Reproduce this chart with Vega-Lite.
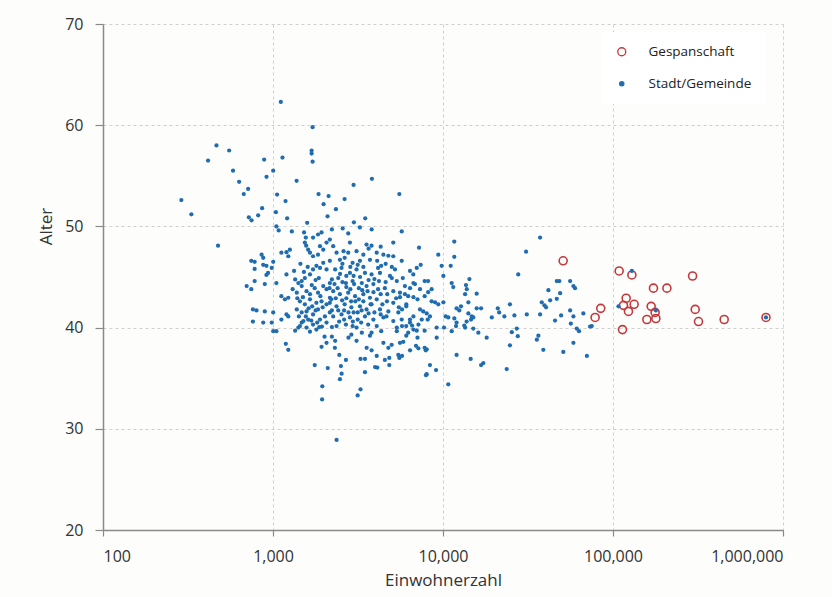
{
  "$schema": "https://vega.github.io/schema/vega-lite/v6.json",
  "width": 680,
  "height": 506,
  "autosize": {"type": "none"},
  "padding": {"left": 103, "top": 24, "right": 49, "bottom": 67},
  "background": "#fdfdfb",
  "config": {
    "view": {"stroke": null},
    "font": "Open Sans",
    "axis": {
      "labelFont": "Open Sans", "titleFont": "Open Sans",
      "labelColor": "#333333", "titleColor": "#333333",
      "labelFontSize": 16, "titleFontSize": 17, "titleFontWeight": "normal",
      "domainColor": "#8a8a8a", "domainWidth": 1.5,
      "tickColor": "#8a8a8a", "tickWidth": 1.2,
      "gridColor": "#cfcfcf", "gridDash": [3, 3], "gridWidth": 1
    }
  },
  "datasets": {
    "zup": [
      {"einw": 50900, "alter": 46.6}, {"einw": 78500, "alter": 41.0}, {"einw": 84700, "alter": 41.9},
      {"einw": 108700, "alter": 45.6}, {"einw": 129100, "alter": 45.2}, {"einw": 119500, "alter": 42.9},
      {"einw": 115200, "alter": 42.2}, {"einw": 133200, "alter": 42.3}, {"einw": 123300, "alter": 41.6},
      {"einw": 113700, "alter": 39.8}, {"einw": 173000, "alter": 43.9}, {"einw": 207500, "alter": 43.9},
      {"einw": 167700, "alter": 42.1}, {"einw": 178700, "alter": 40.9}, {"einw": 158200, "alter": 40.8},
      {"einw": 177000, "alter": 41.5}, {"einw": 293800, "alter": 45.1}, {"einw": 304500, "alter": 41.8},
      {"einw": 318400, "alter": 40.6}, {"einw": 450800, "alter": 40.8}, {"einw": 794000, "alter": 41.0}
    ],
    "stadt": [
      {"einw": 1112, "alter": 62.3}, {"einw": 1710, "alter": 59.8}, {"einw": 465, "alter": 58.0}, {"einw": 552, "alter": 57.5},
      {"einw": 415, "alter": 56.5}, {"einw": 887, "alter": 56.6}, {"einw": 1137, "alter": 56.8}, {"einw": 1687, "alter": 57.5},
      {"einw": 1687, "alter": 57.2}, {"einw": 1710, "alter": 56.4}, {"einw": 582, "alter": 55.5}, {"einw": 1003, "alter": 55.5},
      {"einw": 916, "alter": 54.9}, {"einw": 632, "alter": 54.4}, {"einw": 1377, "alter": 54.5}, {"einw": 714, "alter": 53.7},
      {"einw": 673, "alter": 53.2}, {"einw": 289, "alter": 52.6}, {"einw": 1057, "alter": 53.15}, {"einw": 1185, "alter": 52.5},
      {"einw": 1853, "alter": 53.2}, {"einw": 331, "alter": 51.2}, {"einw": 863, "alter": 51.8}, {"einw": 1040, "alter": 51.4},
      {"einw": 818, "alter": 51.1}, {"einw": 721, "alter": 50.9}, {"einw": 748, "alter": 50.6}, {"einw": 1211, "alter": 50.8},
      {"einw": 1589, "alter": 50.35}, {"einw": 475, "alter": 48.1}, {"einw": 1047, "alter": 50.0}, {"einw": 1080, "alter": 49.6},
      {"einw": 1291, "alter": 49.5}, {"einw": 1523, "alter": 49.4}, {"einw": 1560, "alter": 48.9}, {"einw": 1567, "alter": 48.1},
      {"einw": 1984, "alter": 52.2}, {"einw": 2123, "alter": 53.0}, {"einw": 2094, "alter": 51.0}, {"einw": 2345, "alter": 51.7},
      {"einw": 2637, "alter": 52.7}, {"einw": 2978, "alter": 54.1}, {"einw": 3487, "alter": 50.8}, {"einw": 3818, "alter": 54.7},
      {"einw": 3804, "alter": 49.7}, {"einw": 2992, "alter": 50.4}, {"einw": 3243, "alter": 49.9}, {"einw": 5534, "alter": 53.2},
      {"einw": 5717, "alter": 49.5}, {"einw": 2570, "alter": 49.8}, {"einw": 915, "alter": 45.2},
      {"einw": 1540, "alter": 48.4}, {"einw": 1610, "alter": 47.7}, {"einw": 1120, "alter": 47.4}, {"einw": 1200, "alter": 47.45},
      {"einw": 1257, "alter": 47.7}, {"einw": 1230, "alter": 47.05}, {"einw": 857, "alter": 47.2}, {"einw": 876, "alter": 46.9},
      {"einw": 745, "alter": 46.6}, {"einw": 780, "alter": 46.5}, {"einw": 876, "alter": 46.2}, {"einw": 915, "alter": 46.1},
      {"einw": 1003, "alter": 46.5}, {"einw": 780, "alter": 45.8}, {"einw": 935, "alter": 45.4}, {"einw": 983, "alter": 45.9},
      {"einw": 1200, "alter": 45.25}, {"einw": 780, "alter": 44.6}, {"einw": 700, "alter": 44.1}, {"einw": 745, "alter": 43.8},
      {"einw": 895, "alter": 44.3}, {"einw": 1047, "alter": 44.4}, {"einw": 1120, "alter": 43.1}, {"einw": 1175, "alter": 42.8},
      {"einw": 1230, "alter": 42.95}, {"einw": 762, "alter": 41.8}, {"einw": 800, "alter": 41.7}, {"einw": 895, "alter": 41.6},
      {"einw": 1003, "alter": 41.5}, {"einw": 762, "alter": 40.6}, {"einw": 876, "alter": 40.5}, {"einw": 983, "alter": 40.5},
      {"einw": 1003, "alter": 39.65}, {"einw": 1047, "alter": 39.65}, {"einw": 1190, "alter": 38.4}, {"einw": 1230, "alter": 37.8},
      {"einw": 1410, "alter": 40.0}, {"einw": 1475, "alter": 40.5}, {"einw": 1760, "alter": 36.3}, {"einw": 2100, "alter": 36.0},
      {"einw": 1950, "alter": 34.2}, {"einw": 1945, "alter": 32.9}, {"einw": 2366, "alter": 28.9}, {"einw": 1930, "alter": 38.1},
      {"einw": 2010, "alter": 39.1}, {"einw": 2065, "alter": 38.5}, {"einw": 1650, "alter": 39.6}, {"einw": 1800, "alter": 39.8},
      {"einw": 1575, "alter": 40.0}, {"einw": 1870, "alter": 40.05},
      {"einw": 1350, "alter": 44.76}, {"einw": 1410, "alter": 44.4}, {"einw": 1475, "alter": 44.6}, {"einw": 1540, "alter": 44.9},
      {"einw": 1650, "alter": 45.25}, {"einw": 1720, "alter": 45.75}, {"einw": 1800, "alter": 46.1}, {"einw": 1890, "alter": 45.9},
      {"einw": 1975, "alter": 46.4}, {"einw": 2065, "alter": 45.75}, {"einw": 1650, "alter": 47.4}, {"einw": 1720, "alter": 47.05},
      {"einw": 1840, "alter": 47.2}, {"einw": 1890, "alter": 48.05}, {"einw": 1975, "alter": 47.7}, {"einw": 2065, "alter": 48.4},
      {"einw": 1720, "alter": 48.9}, {"einw": 1840, "alter": 49.2}, {"einw": 1930, "alter": 49.4}, {"einw": 2160, "alter": 48.7},
      {"einw": 1305, "alter": 43.8}, {"einw": 1380, "alter": 43.45}, {"einw": 1475, "alter": 44.1}, {"einw": 1575, "alter": 43.6},
      {"einw": 1650, "alter": 43.3}, {"einw": 1760, "alter": 43.9}, {"einw": 1840, "alter": 43.45}, {"einw": 1975, "alter": 44.1},
      {"einw": 2065, "alter": 43.8}, {"einw": 2160, "alter": 44.4}, {"einw": 1440, "alter": 42.6}, {"einw": 1540, "alter": 42.3},
      {"einw": 1650, "alter": 42.8}, {"einw": 1800, "alter": 42.45}, {"einw": 1930, "alter": 42.6}, {"einw": 2065, "alter": 42.3},
      {"einw": 2160, "alter": 42.95}, {"einw": 1380, "alter": 41.8}, {"einw": 1475, "alter": 41.5}, {"einw": 1575, "alter": 41.6},
      {"einw": 1720, "alter": 41.3}, {"einw": 1840, "alter": 41.8}, {"einw": 2020, "alter": 41.1}, {"einw": 2160, "alter": 41.5},
      {"einw": 1510, "alter": 40.65}, {"einw": 1610, "alter": 40.8}, {"einw": 1720, "alter": 40.3}, {"einw": 1890, "alter": 40.8},
      {"einw": 2065, "alter": 40.5}, {"einw": 1440, "alter": 40.15}, {"einw": 1230, "alter": 41.1}, {"einw": 1120, "alter": 40.8},
      {"einw": 1200, "alter": 41.3},
      {"einw": 2220, "alter": 49.7}, {"einw": 2770, "alter": 49.3}, {"einw": 2260, "alter": 48.05}, {"einw": 2835, "alter": 48.4},
      {"einw": 3550, "alter": 48.2}, {"einw": 3800, "alter": 48.1}, {"einw": 5100, "alter": 48.4}, {"einw": 2365, "alter": 47.4},
      {"einw": 2600, "alter": 47.55}, {"einw": 2770, "alter": 47.4}, {"einw": 3100, "alter": 47.55}, {"einw": 3400, "alter": 47.2},
      {"einw": 4075, "alter": 47.4}, {"einw": 4460, "alter": 47.2}, {"einw": 4770, "alter": 47.1}, {"einw": 5100, "alter": 47.05},
      {"einw": 5717, "alter": 46.6}, {"einw": 2160, "alter": 46.6}, {"einw": 2475, "alter": 46.7}, {"einw": 2640, "alter": 46.9},
      {"einw": 2940, "alter": 46.4}, {"einw": 3247, "alter": 46.6}, {"einw": 3719, "alter": 46.7}, {"einw": 4150, "alter": 45.9},
      {"einw": 4330, "alter": 46.1}, {"einw": 5220, "alter": 45.75}, {"einw": 6394, "alter": 45.6}, {"einw": 7010, "alter": 45.9},
      {"einw": 7800, "alter": 44.6}, {"einw": 2320, "alter": 45.75}, {"einw": 2530, "alter": 45.9}, {"einw": 2835, "alter": 45.4},
      {"einw": 3100, "alter": 45.75}, {"einw": 3475, "alter": 45.4}, {"einw": 3800, "alter": 45.25}, {"einw": 4258, "alter": 45.4},
      {"einw": 4875, "alter": 45.1}, {"einw": 5350, "alter": 44.6}, {"einw": 6700, "alter": 44.4}, {"einw": 7322, "alter": 43.8},
      {"einw": 2220, "alter": 44.76}, {"einw": 2420, "alter": 44.9}, {"einw": 2685, "alter": 44.4}, {"einw": 2940, "alter": 44.6},
      {"einw": 3330, "alter": 44.4}, {"einw": 3550, "alter": 44.1}, {"einw": 3895, "alter": 44.3}, {"einw": 4150, "alter": 43.8},
      {"einw": 4550, "alter": 43.9}, {"einw": 5100, "alter": 43.6}, {"einw": 5583, "alter": 43.45}, {"einw": 6240, "alter": 43.1},
      {"einw": 7080, "alter": 42.8}, {"einw": 7800, "alter": 43.1}, {"einw": 2260, "alter": 43.6}, {"einw": 2475, "alter": 43.3},
      {"einw": 2770, "alter": 43.45}, {"einw": 3040, "alter": 43.1}, {"einw": 3400, "alter": 43.3}, {"einw": 3719, "alter": 42.95},
      {"einw": 4075, "alter": 42.8}, {"einw": 4680, "alter": 42.6}, {"einw": 5100, "alter": 42.45}, {"einw": 6080, "alter": 42.3},
      {"einw": 7650, "alter": 41.6}, {"einw": 2160, "alter": 42.45}, {"einw": 2365, "alter": 42.1}, {"einw": 2640, "alter": 42.3},
      {"einw": 2890, "alter": 42.0}, {"einw": 3247, "alter": 42.1}, {"einw": 3550, "alter": 41.8}, {"einw": 3800, "alter": 42.3},
      {"einw": 4258, "alter": 41.8}, {"einw": 4770, "alter": 41.6}, {"einw": 5460, "alter": 41.5}, {"einw": 5740, "alter": 41.8},
      {"einw": 6700, "alter": 41.1}, {"einw": 7500, "alter": 40.8}, {"einw": 2260, "alter": 41.1}, {"einw": 2530, "alter": 41.3},
      {"einw": 2835, "alter": 41.0}, {"einw": 3150, "alter": 40.8}, {"einw": 3475, "alter": 41.1}, {"einw": 3895, "alter": 40.8},
      {"einw": 4460, "alter": 41.0}, {"einw": 5100, "alter": 40.65}, {"einw": 5717, "alter": 40.8}, {"einw": 6394, "alter": 40.5},
      {"einw": 7170, "alter": 40.3}, {"einw": 2365, "alter": 40.15}, {"einw": 2685, "alter": 40.3}, {"einw": 3100, "alter": 40.0},
      {"einw": 3630, "alter": 40.3}, {"einw": 4075, "alter": 40.15}, {"einw": 5350, "alter": 40.0}, {"einw": 6080, "alter": 40.15},
      {"einw": 3148, "alter": 33.3}, {"einw": 3273, "alter": 33.9}, {"einw": 2475, "alter": 34.9}, {"einw": 2533, "alter": 35.45},
      {"einw": 2509, "alter": 36.2}, {"einw": 2455, "alter": 37.3}, {"einw": 2312, "alter": 38.0}, {"einw": 2685, "alter": 36.8},
      {"einw": 3475, "alter": 35.6}, {"einw": 3273, "alter": 36.9}, {"einw": 3475, "alter": 36.9}, {"einw": 3555, "alter": 38.0},
      {"einw": 3802, "alter": 37.75}, {"einw": 4075, "alter": 37.2}, {"einw": 3985, "alter": 36.1}, {"einw": 4105, "alter": 36.05},
      {"einw": 4460, "alter": 38.5}, {"einw": 4770, "alter": 38.0}, {"einw": 4990, "alter": 38.3}, {"einw": 4550, "alter": 36.8},
      {"einw": 4830, "alter": 37.0}, {"einw": 4830, "alter": 36.3}, {"einw": 5460, "alter": 37.3}, {"einw": 5535, "alter": 37.0},
      {"einw": 5583, "alter": 38.5}, {"einw": 5840, "alter": 38.6}, {"einw": 6400, "alter": 37.75}, {"einw": 6935, "alter": 38.2},
      {"einw": 7165, "alter": 37.95}, {"einw": 7915, "alter": 37.75}, {"einw": 7940, "alter": 35.3}, {"einw": 9100, "alter": 35.8},
      {"einw": 10740, "alter": 34.4}, {"einw": 2220, "alter": 39.1}, {"einw": 2320, "alter": 38.7}, {"einw": 2220, "alter": 40.05},
      {"einw": 2940, "alter": 40.15}, {"einw": 2890, "alter": 39.3}, {"einw": 2780, "alter": 39.0}, {"einw": 3100, "alter": 38.7},
      {"einw": 3330, "alter": 39.5}, {"einw": 3719, "alter": 39.2}, {"einw": 3800, "alter": 39.5}, {"einw": 4330, "alter": 39.65},
      {"einw": 5350, "alter": 39.65}, {"einw": 6240, "alter": 39.5}, {"einw": 6080, "alter": 39.2}, {"einw": 7010, "alter": 39.7},
      {"einw": 6580, "alter": 40.2}, {"einw": 7080, "alter": 39.0}, {"einw": 9180, "alter": 40.0},
      {"einw": 5583, "alter": 43.0}, {"einw": 5970, "alter": 43.3}, {"einw": 6400, "alter": 43.9}, {"einw": 6700, "alter": 43.0},
      {"einw": 6080, "alter": 42.1}, {"einw": 7322, "alter": 41.8}, {"einw": 6394, "alter": 40.8}, {"einw": 5740, "alter": 40.15},
      {"einw": 6700, "alter": 39.8}, {"einw": 5740, "alter": 37.2}, {"einw": 7800, "alter": 38.0},
      {"einw": 37250, "alter": 48.9}, {"einw": 30800, "alter": 47.5}, {"einw": 27700, "alter": 45.25}, {"einw": 7227, "alter": 47.9},
      {"einw": 11650, "alter": 48.5}, {"einw": 11650, "alter": 47.0}, {"einw": 9380, "alter": 47.2}, {"einw": 9820, "alter": 46.1},
      {"einw": 11100, "alter": 46.1}, {"einw": 7396, "alter": 46.2}, {"einw": 6686, "alter": 45.25}, {"einw": 10050, "alter": 45.1},
      {"einw": 14300, "alter": 44.8}, {"einw": 13650, "alter": 44.2}, {"einw": 15780, "alter": 43.35}, {"einw": 11250, "alter": 44.4},
      {"einw": 11490, "alter": 44.0}, {"einw": 8570, "alter": 43.8}, {"einw": 8180, "alter": 43.5}, {"einw": 6840, "alter": 44.3},
      {"einw": 5970, "alter": 44.1}, {"einw": 8170, "alter": 44.6},
      {"einw": 46700, "alter": 44.6}, {"einw": 48360, "alter": 44.6}, {"einw": 55950, "alter": 44.6}, {"einw": 58500, "alter": 44.1},
      {"einw": 59800, "alter": 43.9}, {"einw": 41690, "alter": 43.7}, {"einw": 48870, "alter": 43.4}, {"einw": 46700, "alter": 42.85},
      {"einw": 42670, "alter": 42.7}, {"einw": 38100, "alter": 42.5}, {"einw": 39530, "alter": 42.2}, {"einw": 40380, "alter": 42.0},
      {"einw": 13490, "alter": 43.3}, {"einw": 13800, "alter": 43.8}, {"einw": 8570, "alter": 42.6}, {"einw": 8980, "alter": 42.5},
      {"einw": 9380, "alter": 42.3}, {"einw": 10050, "alter": 42.5}, {"einw": 12760, "alter": 42.1}, {"einw": 12020, "alter": 41.9},
      {"einw": 12470, "alter": 41.7}, {"einw": 14100, "alter": 42.5}, {"einw": 15780, "alter": 41.9}, {"einw": 16750, "alter": 41.9},
      {"einw": 21000, "alter": 41.9}, {"einw": 21400, "alter": 41.5}, {"einw": 24760, "alter": 42.3}, {"einw": 22960, "alter": 41.1},
      {"einw": 26300, "alter": 41.2}, {"einw": 31100, "alter": 41.3}, {"einw": 37250, "alter": 41.3}, {"einw": 19370, "alter": 41.0},
      {"einw": 14100, "alter": 41.4}, {"einw": 14760, "alter": 41.1}, {"einw": 15070, "alter": 41.0}, {"einw": 14620, "alter": 40.8},
      {"einw": 13770, "alter": 40.6}, {"einw": 13340, "alter": 40.2}, {"einw": 13490, "alter": 40.0}, {"einw": 12020, "alter": 40.5},
      {"einw": 11930, "alter": 40.15}, {"einw": 11660, "alter": 40.9}, {"einw": 10740, "alter": 41.0}, {"einw": 10370, "alter": 41.1},
      {"einw": 8380, "alter": 41.1}, {"einw": 8130, "alter": 40.8}, {"einw": 8020, "alter": 41.4}, {"einw": 10140, "alter": 40.0},
      {"einw": 11250, "alter": 39.65}, {"einw": 15070, "alter": 39.9}, {"einw": 16140, "alter": 39.5}, {"einw": 18070, "alter": 39.0},
      {"einw": 9180, "alter": 39.0}, {"einw": 25400, "alter": 39.55}, {"einw": 27170, "alter": 39.9}, {"einw": 27540, "alter": 39.15},
      {"einw": 36400, "alter": 39.2}, {"einw": 35650, "alter": 38.8}, {"einw": 45600, "alter": 40.7}, {"einw": 49500, "alter": 41.2},
      {"einw": 55950, "alter": 41.7}, {"einw": 58500, "alter": 41.1}, {"einw": 56500, "alter": 40.4}, {"einw": 61200, "alter": 39.9},
      {"einw": 63100, "alter": 39.65}, {"einw": 66900, "alter": 41.4}, {"einw": 75000, "alter": 40.15}, {"einw": 58500, "alter": 38.5},
      {"einw": 51000, "alter": 37.6}, {"einw": 70200, "alter": 37.2}, {"einw": 38900, "alter": 37.8}, {"einw": 24760, "alter": 38.25},
      {"einw": 23700, "alter": 35.9}, {"einw": 12020, "alter": 37.3}, {"einw": 14550, "alter": 36.9}, {"einw": 16750, "alter": 36.3},
      {"einw": 17270, "alter": 36.5}, {"einw": 8380, "alter": 36.3}, {"einw": 8020, "alter": 35.4}, {"einw": 8020, "alter": 37.85},
      {"einw": 7800, "alter": 39.7},
      {"einw": 129100, "alter": 45.6}, {"einw": 107700, "alter": 42.1}, {"einw": 178700, "alter": 41.7}, {"einw": 73300, "alter": 40.1},
      {"einw": 794000, "alter": 41.0},
      {"einw": 1330, "alter": 45.6}, {"einw": 1450, "alter": 46.3}, {"einw": 1520, "alter": 45.5}, {"einw": 1600, "alter": 46.0},
      {"einw": 1690, "alter": 44.2}, {"einw": 1780, "alter": 44.7}, {"einw": 1860, "alter": 44.9}, {"einw": 1390, "alter": 42.9},
      {"einw": 1500, "alter": 43.0}, {"einw": 1620, "alter": 41.9}, {"einw": 1700, "alter": 42.1}, {"einw": 1780, "alter": 41.7},
      {"einw": 1900, "alter": 43.1}, {"einw": 1960, "alter": 42.0}, {"einw": 1420, "alter": 41.1}, {"einw": 1560, "alter": 41.1},
      {"einw": 1680, "alter": 40.7}, {"einw": 1820, "alter": 40.5}, {"einw": 1940, "alter": 40.1}, {"einw": 1350, "alter": 39.7},
      {"einw": 2150, "alter": 43.9}, {"einw": 2300, "alter": 44.3}, {"einw": 2400, "alter": 43.9}, {"einw": 2560, "alter": 44.5},
      {"einw": 2700, "alter": 44.0}, {"einw": 2850, "alter": 43.8}, {"einw": 3000, "alter": 44.3}, {"einw": 3200, "alter": 43.9},
      {"einw": 3350, "alter": 43.7}, {"einw": 2200, "alter": 42.8}, {"einw": 2340, "alter": 42.9}, {"einw": 2550, "alter": 42.7},
      {"einw": 2700, "alter": 42.9}, {"einw": 2880, "alter": 42.6}, {"einw": 3050, "alter": 42.6}, {"einw": 3200, "alter": 42.8},
      {"einw": 3400, "alter": 42.6}, {"einw": 2220, "alter": 41.7}, {"einw": 2420, "alter": 41.7}, {"einw": 2620, "alter": 41.7},
      {"einw": 2780, "alter": 41.5}, {"einw": 2980, "alter": 41.5}, {"einw": 3150, "alter": 41.5}, {"einw": 3320, "alter": 41.7},
      {"einw": 2450, "alter": 40.6}, {"einw": 2620, "alter": 40.8}, {"einw": 2950, "alter": 40.6}, {"einw": 3300, "alter": 40.5},
      {"einw": 2480, "alter": 45.3}, {"einw": 2700, "alter": 45.1}, {"einw": 2980, "alter": 45.1}, {"einw": 3250, "alter": 45.0},
      {"einw": 2560, "alter": 46.3}, {"einw": 2850, "alter": 46.0}, {"einw": 3150, "alter": 46.2}, {"einw": 3400, "alter": 46.0},
      {"einw": 3650, "alter": 44.7}, {"einw": 3950, "alter": 44.8}, {"einw": 4200, "alter": 44.6}, {"einw": 4600, "alter": 44.5},
      {"einw": 3600, "alter": 43.6}, {"einw": 3900, "alter": 43.5}, {"einw": 4300, "alter": 43.3}, {"einw": 4700, "alter": 43.3},
      {"einw": 3650, "alter": 41.4}, {"einw": 3950, "alter": 41.5}, {"einw": 4300, "alter": 41.3}, {"einw": 4650, "alter": 41.1},
      {"einw": 3750, "alter": 42.3}, {"einw": 4400, "alter": 42.3}, {"einw": 5300, "alter": 42.9}, {"einw": 5500, "alter": 42.0},
      {"einw": 4100, "alter": 46.6}, {"einw": 4600, "alter": 46.3}, {"einw": 5000, "alter": 46.0}, {"einw": 3650, "alter": 47.8},
      {"einw": 4300, "alter": 48.0}, {"einw": 5000, "alter": 44.9}, {"einw": 5800, "alter": 44.9}
    ]
  },
  "encoding": {
    "x": {
      "field": "einw", "type": "quantitative",
      "scale": {"type": "log", "domain": [100, 1000000], "nice": false},
      "axis": {"values": [100, 1000, 10000, 100000, 1000000], "format": ",", "title": "Einwohnerzahl", "tickSize": 6, "labelPadding": 12, "titlePadding": 8}
    },
    "y": {
      "field": "alter", "type": "quantitative",
      "scale": {"domain": [20, 70], "zero": false, "nice": false},
      "axis": {"values": [20, 30, 40, 50, 60, 70], "title": "Alter", "tickSize": 8, "labelPadding": 12, "titleX": -48, "titleY": 202}
    }
  },
  "layer": [
    {
      "data": {"name": "zup"},
      "mark": {"type": "point", "filled": false, "strokeWidth": 1.6, "opacity": 1},
      "encoding": {
        "fill": {
          "datum": "Gespanschaft", "type": "nominal",
          "scale": {"domain": ["Gespanschaft", "Stadt/Gemeinde"], "range": ["rgba(0,0,0,0)", "#1f6db0"]},
          "legend": {
            "title": null, "orient": "none", "legendX": 499, "legendY": 8,
            "fillColor": "white", "padding": 13, "rowPadding": 17, "labelOffset": 20,
            "labelFontSize": 13.5, "labelFont": "Open Sans", "labelColor": "#222222",
            "symbolType": "circle", "symbolStrokeWidth": 1.3, "symbolOpacity": 1
          }
        },
        "stroke": {
          "datum": "Gespanschaft", "type": "nominal",
          "scale": {"domain": ["Gespanschaft", "Stadt/Gemeinde"], "range": ["#c4373a", "#1f6db0"]}
        },
        "size": {
          "datum": "Gespanschaft", "type": "ordinal",
          "scale": {"domain": ["Gespanschaft", "Stadt/Gemeinde"], "range": [64, 18]}
        }
      }
    },
    {
      "data": {"name": "stadt"},
      "mark": {"type": "circle", "strokeWidth": 0, "opacity": 1},
      "encoding": {
        "fill": {"datum": "Stadt/Gemeinde", "type": "nominal"},
        "stroke": {"datum": "Stadt/Gemeinde", "type": "nominal"},
        "size": {"datum": "Stadt/Gemeinde", "type": "ordinal"}
      }
    }
  ]
}
